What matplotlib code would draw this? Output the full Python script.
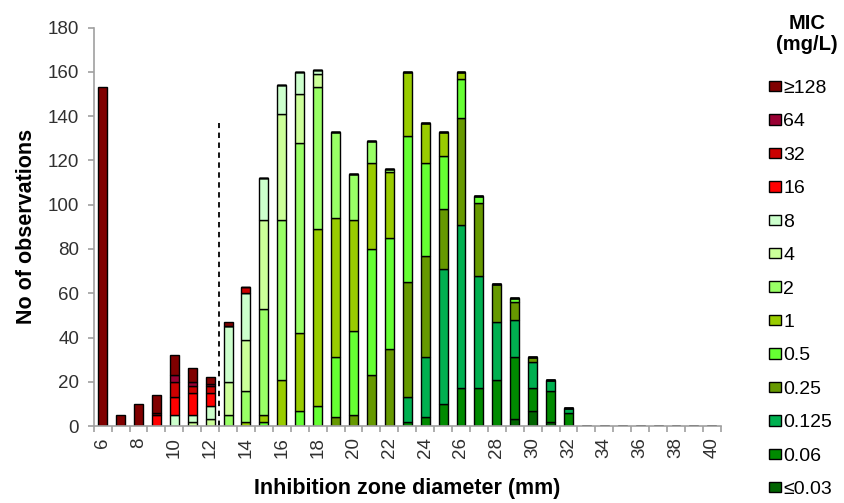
import matplotlib
matplotlib.use('Agg')
import matplotlib.pyplot as plt
import numpy as np

plt.rcParams['font.family'] = ['Liberation Sans', 'DejaVu Sans']

# zone diameters (mm), one bar each
diameters = list(range(6, 41))

# MIC classes, bottom of the stack first
mic_labels = ['\u22640.03', '0.06', '0.125', '0.25', '0.5', '1', '2', '4', '8',
              '16', '32', '64', '\u2265128']
mic_colors = ['#006400', '#008a00', '#00b050', '#669900', '#66ff33', '#99cc00',
              '#99ff66', '#ccff99', '#ccffcc', '#ff0000', '#cc0000', '#990033',
              '#800000']

#            6  7  8  9 10 11 12 13 14 15 16 17 18 19 20 21 22 23 24 25 26 27 28 29 30 31 32 33 34 35 36 37 38 39 40
le003   = [0, 0, 0, 0, 0, 0, 0, 0, 0, 0, 0, 0, 0, 0, 0, 0, 0, 0, 0, 0, 0, 0, 0, 3, 7, 2, 0, 0, 0, 0, 0, 0, 0, 0, 0]
mic006  = [0, 0, 0, 0, 0, 0, 0, 0, 0, 0, 0, 0, 0, 0, 0, 0, 0, 2, 4, 10, 17, 17, 21, 28, 10, 14, 6, 0, 0, 0, 0, 0, 0, 0, 0]
mic0125 = [0, 0, 0, 0, 0, 0, 0, 0, 0, 0, 0, 0, 0, 0, 0, 0, 0, 11, 27, 61, 74, 51, 26, 17, 12, 5, 2, 0, 0, 0, 0, 0, 0, 0, 0]
mic025  = [0, 0, 0, 0, 0, 0, 0, 0, 0, 0, 0, 0, 0, 4, 5, 23, 35, 52, 46, 27, 48, 33, 17, 8, 2, 0, 0, 0, 0, 0, 0, 0, 0, 0, 0]
mic05   = [0, 0, 0, 0, 0, 0, 0, 0, 0, 2, 0, 7, 9, 27, 38, 57, 50, 66, 42, 24, 18, 3, 0, 2, 0, 0, 0, 0, 0, 0, 0, 0, 0, 0, 0]
mic1    = [0, 0, 0, 0, 0, 0, 0, 0, 2, 3, 21, 35, 80, 63, 50, 39, 30, 29, 18, 11, 3, 0, 0, 0, 0, 0, 0, 0, 0, 0, 0, 0, 0, 0, 0]
mic2    = [0, 0, 0, 0, 0, 0, 0, 5, 14, 48, 72, 86, 64, 39, 21, 10, 1, 0, 0, 0, 0, 0, 0, 0, 0, 0, 0, 0, 0, 0, 0, 0, 0, 0, 0]
mic4    = [0, 0, 0, 0, 0, 2, 3, 15, 23, 40, 48, 22, 6, 0, 0, 0, 0, 0, 0, 0, 0, 0, 0, 0, 0, 0, 0, 0, 0, 0, 0, 0, 0, 0, 0]
mic8    = [0, 0, 0, 0, 5, 3, 6, 25, 21, 19, 13, 10, 2, 0, 0, 0, 0, 0, 0, 0, 0, 0, 0, 0, 0, 0, 0, 0, 0, 0, 0, 0, 0, 0, 0]
mic16   = [0, 0, 0, 5, 8, 10, 6, 0, 0, 0, 0, 0, 0, 0, 0, 0, 0, 0, 0, 0, 0, 0, 0, 0, 0, 0, 0, 0, 0, 0, 0, 0, 0, 0, 0]
mic32   = [0, 0, 0, 1, 7, 3, 3, 0, 3, 0, 0, 0, 0, 0, 0, 0, 0, 0, 0, 0, 0, 0, 0, 0, 0, 0, 0, 0, 0, 0, 0, 0, 0, 0, 0]
mic64   = [0, 0, 0, 0, 3, 2, 1, 0, 0, 0, 0, 0, 0, 0, 0, 0, 0, 0, 0, 0, 0, 0, 0, 0, 0, 0, 0, 0, 0, 0, 0, 0, 0, 0, 0]
ge128   = [153, 5, 10, 8, 9, 6, 3, 2, 0, 0, 0, 0, 0, 0, 0, 0, 0, 0, 0, 0, 0, 0, 0, 0, 0, 0, 0, 0, 0, 0, 0, 0, 0, 0, 0]

series = [le003, mic006, mic0125, mic025, mic05, mic1, mic2, mic4, mic8,
          mic16, mic32, mic64, ge128]

breakpoint_mm = 12.5
breakpoint_top = 137

fig = plt.figure(figsize=(8.44, 5.03), dpi=100)
ax = fig.add_axes([0.111, 0.153, 0.743, 0.792])

bottom = np.zeros(len(diameters))
handles = []
for vals, lab, col in zip(series, mic_labels, mic_colors):
    vals = np.array(vals, dtype=float)
    b = ax.bar(diameters, vals, width=0.5, bottom=bottom, color=col,
               edgecolor='black', linewidth=1.0, label=lab)
    handles.append(b)
    bottom += vals

ax.vlines(breakpoint_mm, 0, breakpoint_top, colors='black', linestyles=(0, (3, 2.5)),
          linewidth=1.3)

ax.set_xlim(5.5, 40.5)
ax.set_ylim(0, 180)
ax.set_yticks(range(0, 181, 20))
ax.set_xticks(range(6, 41, 2))
ax.set_xticklabels([str(d) for d in range(6, 41, 2)], rotation=90)
ax.set_xticks(np.arange(5.5, 41, 1), minor=True)
ax.tick_params(axis='x', which='major', length=0, pad=8, labelsize=13.5, labelcolor='#303030')
ax.tick_params(axis='x', which='minor', length=4.5, color='#a0a0a0', width=1.2)
ax.tick_params(axis='y', length=4.5, color='#a0a0a0', width=1.2, labelsize=13.5,
               labelcolor='#303030', pad=6)

for s in ['top', 'right']:
    ax.spines[s].set_visible(False)
for s in ['left', 'bottom']:
    ax.spines[s].set_color('#a0a0a0')
    ax.spines[s].set_linewidth(1.2)

ax.set_ylabel('No of observations', fontsize=15.5, fontweight='bold', labelpad=8)
ax.set_xlabel('Inhibition zone diameter (mm)', fontsize=15.5, fontweight='bold', labelpad=14)

# legend title drawn separately, centred above the entries
fig.text(0.956, 0.972, 'MIC\n(mg/L)', ha='center', va='top', fontsize=14.5,
         fontweight='bold', linespacing=1.15)
leg = fig.legend(handles[::-1], mic_labels[::-1], loc='upper left',
                 bbox_to_anchor=(0.911, 0.841), frameon=False, fontsize=14,
                 handlelength=0.6, handleheight=0.45, handletextpad=0.15,
                 labelspacing=0.845, borderpad=0, borderaxespad=0)
for h in leg.legend_handles:
    h.set_linewidth(1.0)

fig.savefig('out.png', dpi=100)
